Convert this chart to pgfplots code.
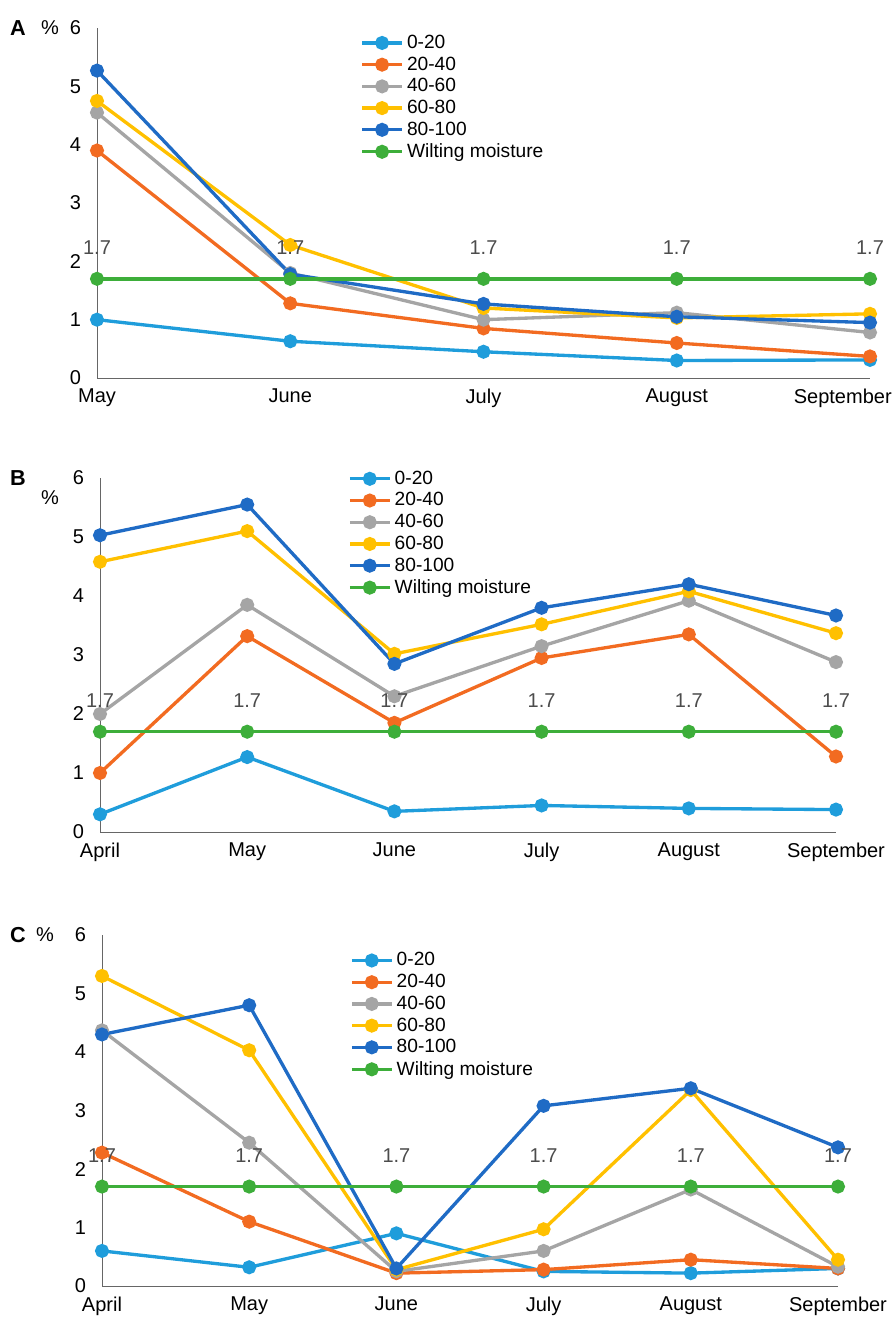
\documentclass[border=0pt]{standalone}
\usepackage{pgfplots}
\pgfplotsset{compat=1.18}
\usepackage{fontspec}
\setmainfont{Liberation Sans}
\definecolor{cA}{HTML}{1F9DDB}
\definecolor{cB}{HTML}{F26B21}
\definecolor{cC}{HTML}{A5A5A5}
\definecolor{cD}{HTML}{FFC000}
\definecolor{cE}{HTML}{1F6BC5}
\definecolor{cF}{HTML}{3DAE3A}
\newcommand{\px}{0.6pt}
\pgfplotsset{
 base/.style={scale only axis, ymin=0, ymax=6, ytick={0,1,...,6},
  axis x line*=bottom, axis y line*=left, axis line style={draw=black!60, -},
  major tick length=0pt, xtick=data, enlargelimits=false, clip=false,
  tick label style={font=\fontsize{12}{14}\selectfont},
  /pgf/number format/assume math mode=true,
  xticklabel style={yshift=-3pt}, yticklabel style={xshift=-6pt},
  legend style={draw=none, fill=none, font=\fontsize{11.5}{12}\selectfont, row sep=-0.5pt,
   /tikz/every even column/.append style={column sep=2pt}},
  legend image code/.code={\draw[#1, mark repeat=2, mark phase=2] plot coordinates {(0cm,0cm)(0.42cm,0cm)(0.84cm,0cm)};},
  legend cell align=left,
  every axis plot/.append style={line width=2pt, mark=*, mark size=3.2pt},
 },
 wilt/.style={color=cF, nodes near coords={1.7}, every node near coord/.style={anchor=south, yshift=10pt, font=\fontsize{12}{14}\selectfont, color=black!70}},
}
\begin{document}
\begin{tikzpicture}
\useasboundingbox (0,0) rectangle (893*\px,-1327*\px);
\node[font=\bfseries\fontsize{13}{15}\selectfont] at (18*\px,-28*\px) {A};
\node[font=\fontsize{12}{14}\selectfont] at (50*\px,-28*\px) {\%};
\node[font=\bfseries\fontsize{13}{15}\selectfont] at (18*\px,-478*\px) {B};
\node[font=\fontsize{12}{14}\selectfont] at (50*\px,-498*\px) {\%};
\node[font=\bfseries\fontsize{13}{15}\selectfont] at (18*\px,-935*\px) {C};
\node[font=\fontsize{12}{14}\selectfont] at (45*\px,-935*\px) {\%};
% A
\begin{axis}[base, at={(97*\px,-378*\px)}, anchor=south west, width=773*\px, height=350*\px,
 xmin=0, xmax=4, xticklabels={May,June,July,August,\llap{September\kern-13pt}},
 legend style={at={(0.334,1.0)}, anchor=north west}]
\addplot[cA] coordinates {(0,1.0)(1,0.63)(2,0.45)(3,0.3)(4,0.31)};
\addplot[cB] coordinates {(0,3.9)(1,1.28)(2,0.85)(3,0.6)(4,0.37)};
\addplot[cC] coordinates {(0,4.55)(1,1.8)(2,1.0)(3,1.12)(4,0.78)};
\addplot[cD] coordinates {(0,4.75)(1,2.28)(2,1.2)(3,1.03)(4,1.1)};
\addplot[cE] coordinates {(0,5.27)(1,1.78)(2,1.27)(3,1.05)(4,0.95)};
\addplot[wilt] coordinates {(0,1.7)(1,1.7)(2,1.7)(3,1.7)(4,1.7)};
\legend{0-20,20-40,40-60,60-80,80-100,Wilting moisture}
\end{axis}
% B
\begin{axis}[base, at={(100*\px,-832*\px)}, anchor=south west, width=736*\px, height=354*\px,
 xmin=0, xmax=5, xticklabels={April,May,June,July,August,September},
 legend style={at={(0.33,1.04)}, anchor=north west}]
\addplot[cA] coordinates {(0,0.3)(1,1.27)(2,0.35)(3,0.45)(4,0.4)(5,0.38)};
\addplot[cB] coordinates {(0,1.0)(1,3.32)(2,1.85)(3,2.95)(4,3.35)(5,1.28)};
\addplot[cC] coordinates {(0,2.0)(1,3.85)(2,2.3)(3,3.15)(4,3.92)(5,2.88)};
\addplot[cD] coordinates {(0,4.58)(1,5.1)(2,3.02)(3,3.52)(4,4.08)(5,3.37)};
\addplot[cE] coordinates {(0,5.03)(1,5.55)(2,2.85)(3,3.8)(4,4.2)(5,3.67)};
\addplot[wilt] coordinates {(0,1.7)(1,1.7)(2,1.7)(3,1.7)(4,1.7)(5,1.7)};
\legend{0-20,20-40,40-60,60-80,80-100,Wilting moisture}
\end{axis}
% C
\begin{axis}[base, at={(102*\px,-1286*\px)}, anchor=south west, width=736*\px, height=351*\px,
 xmin=0, xmax=5, xticklabels={April,May,June,July,August,September},
 legend style={at={(0.33,0.97)}, anchor=north west}]
\addplot[cA] coordinates {(0,0.6)(1,0.32)(2,0.9)(3,0.25)(4,0.22)(5,0.3)};
\addplot[cB] coordinates {(0,2.28)(1,1.1)(2,0.22)(3,0.28)(4,0.45)(5,0.3)};
\addplot[cC] coordinates {(0,4.37)(1,2.45)(2,0.25)(3,0.6)(4,1.65)(5,0.33)};
\addplot[cD] coordinates {(0,5.3)(1,4.03)(2,0.28)(3,0.97)(4,3.35)(5,0.45)};
\addplot[cE] coordinates {(0,4.3)(1,4.8)(2,0.3)(3,3.08)(4,3.38)(5,2.37)};
\addplot[wilt] coordinates {(0,1.7)(1,1.7)(2,1.7)(3,1.7)(4,1.7)(5,1.7)};
\legend{0-20,20-40,40-60,60-80,80-100,Wilting moisture}
\end{axis}
\end{tikzpicture}
\end{document}
